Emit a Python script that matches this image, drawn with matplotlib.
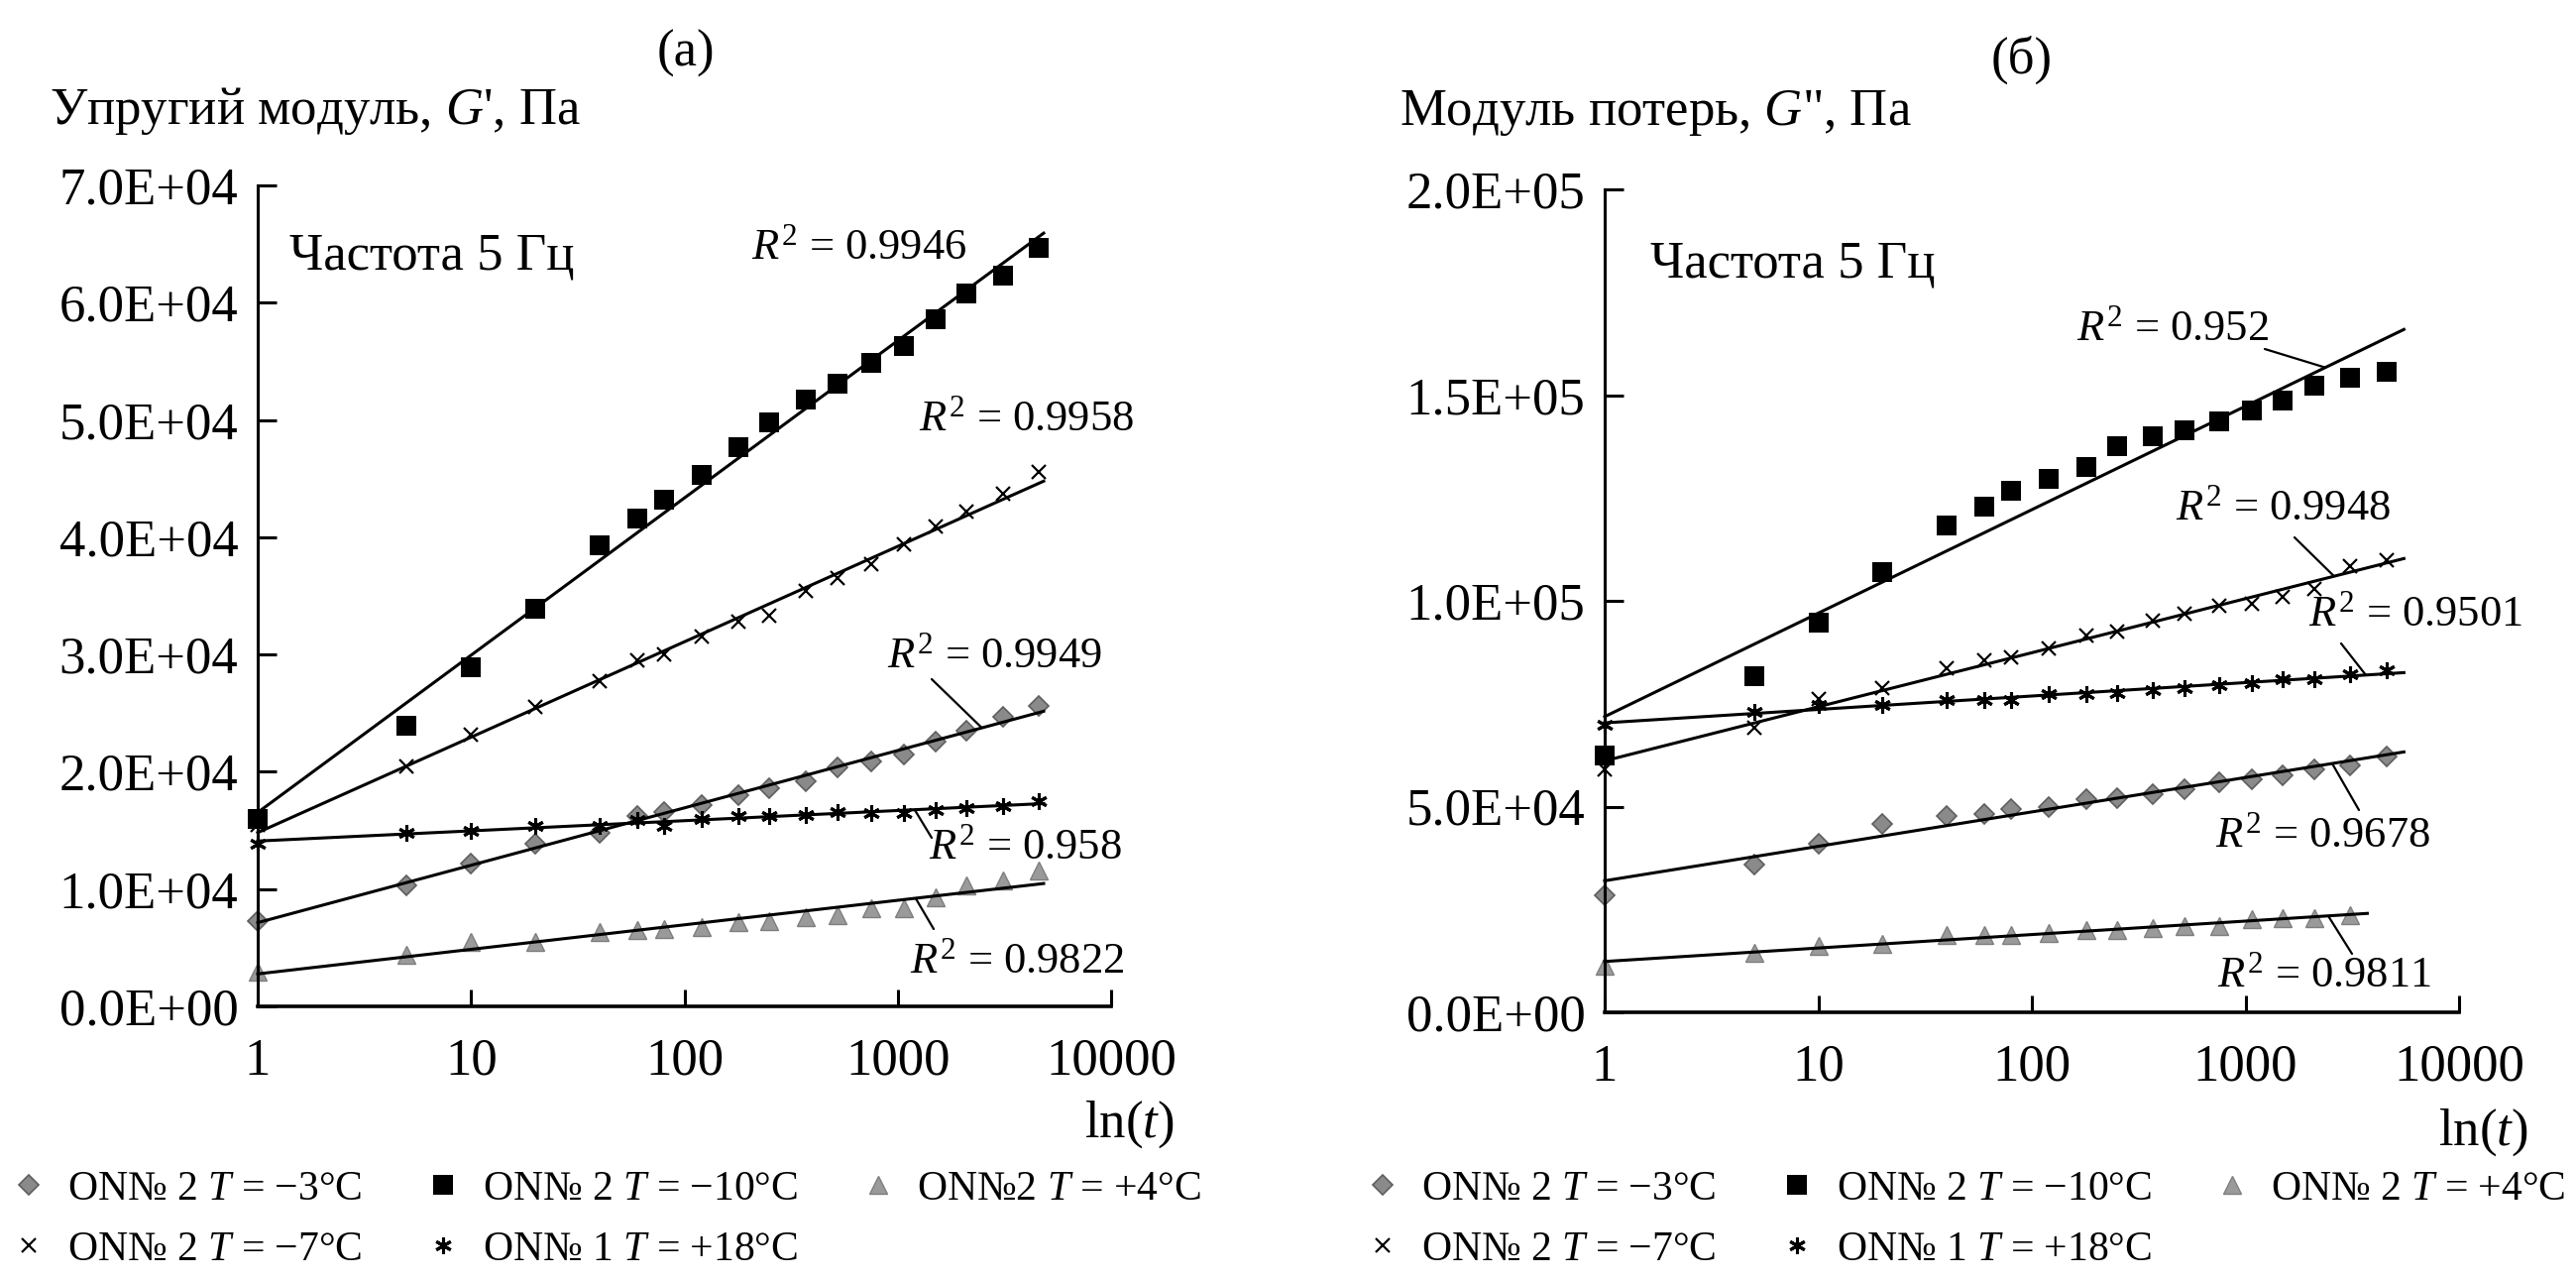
import numpy as np
import matplotlib.pyplot as plt
from matplotlib.ticker import FixedLocator, FuncFormatter, NullLocator

plt.rcParams['font.family'] = ['Liberation Serif', 'DejaVu Serif']
plt.rcParams['mathtext.fontset'] = 'custom'
plt.rcParams['mathtext.rm'] = 'Liberation Serif'
plt.rcParams['mathtext.it'] = 'Liberation Serif:italic'

W, H = 2599, 1291

# Время, с (ось ln(t))
t = [1, 5, 10, 20, 40, 60, 80, 120, 180, 250, 370, 520, 750, 1070, 1500, 2100, 3100, 4600]

# (а) Упругий модуль G', x 1E+04 Па
g1_m3 = [0.73, 1.03, 1.22, 1.39, 1.48, 1.62, 1.66, 1.72, 1.80, 1.86, 1.92, 2.04, 2.09, 2.15, 2.26, 2.35, 2.47, 2.56]
g1_m10 = [1.60, 2.39, 2.89, 3.39, 3.93, 4.16, 4.32, 4.53, 4.77, 4.98, 5.17, 5.31, 5.49, 5.63, 5.86, 6.08, 6.23, 6.47]
g1_p4 = [0.30, 0.44, 0.55, 0.55, 0.63, 0.65, 0.66, 0.68, 0.72, 0.73, 0.76, 0.78, 0.84, 0.84, 0.93, 1.03, 1.07, 1.16]
g1_m7 = [1.55, 2.05, 2.32, 2.55, 2.77, 2.95, 3.00, 3.15, 3.28, 3.33, 3.54, 3.65, 3.77, 3.94, 4.09, 4.22, 4.37, 4.56]
g1_p18 = [1.39, 1.48, 1.50, 1.54, 1.54, 1.59, 1.54, 1.60, 1.62, 1.62, 1.63, 1.66, 1.65, 1.65, 1.67, 1.69, 1.71, 1.75]

# (б) Модуль потерь G'', x 1E+04 Па
g2_m3 = [2.84, 3.60, 4.09, 4.57, 4.78, 4.83, 4.94, 4.99, 5.17, 5.21, 5.31, 5.42, 5.58, 5.66, 5.77, 5.91, 6.00, 6.22]
g2_m10 = [6.23, 8.16, 9.47, 10.70, 11.83, 12.30, 12.68, 12.96, 13.25, 13.77, 14.01, 14.15, 14.37, 14.63, 14.86, 15.24, 15.41, 15.56]
g2_p4 = [1.13, 1.45, 1.61, 1.66, 1.88, 1.88, 1.88, 1.93, 1.99, 1.99, 2.04, 2.09, 2.09, 2.26, 2.30, 2.30, 2.36]
g2_m7 = [5.90, 6.92, 7.62, 7.88, 8.37, 8.55, 8.62, 8.85, 9.15, 9.25, 9.52, 9.69, 9.88, 9.93, 10.10, 10.30, 10.84, 11.00]
g2_p18 = [7.00, 7.30, 7.46, 7.46, 7.60, 7.60, 7.60, 7.73, 7.73, 7.75, 7.83, 7.88, 7.94, 8.00, 8.10, 8.10, 8.22, 8.32]

labels_a = ["ON№ 2 $T$ = −3°C", "ON№ 2 $T$ = −7°C", "ON№ 2 $T$ = −10°C", "ON№ 1 $T$ = +18°C", "ON№2 $T$ = +4°C"]
labels_b = ["ON№ 2 $T$ = −3°C", "ON№ 2 $T$ = −7°C", "ON№ 2 $T$ = −10°C", "ON№ 1 $T$ = +18°C", "ON№ 2 $T$ = +4°C"]

# стили маркеров: ромб, крестик, квадрат, звездочка, треугольник
styles = [
    dict(marker='D', ms=10, mfc='#8a8a8a', mec='#5e5e5e', mew=1.2),
    dict(marker='x', ms=10, mfc='black', mec='black', mew=1.6),
    dict(marker='s', ms=14.5, mfc='black', mec='black', mew=0),
    dict(marker=(6, 2, 0), ms=12, mfc='black', mec='black', mew=2.2),
    dict(marker='^', ms=13.5, mfc='#9a9a9a', mec='#7e7e7e', mew=1.0),
]


def px(x, y):
    return (x / W, 1 - y / H)


def make_axes(fig, x0, x1, y0, y1):
    return fig.add_axes([x0 / W, 1 - y1 / H, (x1 - x0) / W, (y1 - y0) / H])


def style_axes(ax, ymax, ystep):
    ax.set_xscale('log')
    ax.set_xlim(1, 1e4)
    ax.set_ylim(0, ymax)
    ax.spines['top'].set_visible(False)
    ax.spines['right'].set_visible(False)
    ax.spines['left'].set_linewidth(2.2)
    ax.spines['bottom'].set_linewidth(2.6)
    ax.xaxis.set_major_locator(FixedLocator([1, 10, 100, 1000, 10000]))
    ax.xaxis.set_minor_locator(NullLocator())
    ax.xaxis.set_major_formatter(FuncFormatter(lambda v, p: f"{v:.0f}"))
    ax.yaxis.set_major_locator(FixedLocator(np.arange(0, ymax + 1, ystep)))
    ax.yaxis.set_major_formatter(FuncFormatter(lambda v, p: f"{v:.1E}"))
    ax.tick_params(axis='x', direction='in', length=12, width=2.2, labelsize=38, pad=23)
    ax.tick_params(axis='y', direction='in', length=14, width=2.2, labelsize=38, pad=14)


def draw_series(ax, series, t_scale):
    handles = []
    fits = []
    for ys, st in zip(series, styles):
        tt = np.array(t[:len(ys)], dtype=float)
        vals = np.array(ys) * 1e4
        b, a = np.polyfit(np.log10(tt), vals, 1)
        fits.append((b, a))
        tl = np.array([1.0, tt[-1] * t_scale])
        ax.plot(tl, a + b * np.log10(tl), color='black', lw=2.2, zorder=3, clip_on=False)
        h, = ax.plot(tt, vals, ls='none', zorder=2, clip_on=False, **st)
        handles.append(h)
    return handles, fits


def leader(ax, fit, t_on, x_txt, y_txt):
    b, a = fit
    ax.annotate('', xy=(t_on, a + b * np.log10(t_on)), xycoords='data',
                xytext=(x_txt, H - y_txt), textcoords='figure pixels',
                arrowprops=dict(arrowstyle='-', lw=1.6, color='black',
                                shrinkA=0, shrinkB=0))


fig = plt.figure(figsize=(W / 100, H / 100), dpi=100)

# ---------- (а) ----------
ax1 = make_axes(fig, 260, 1121, 187, 1015)
style_axes(ax1, 7e4, 1e4)
h1, fit1 = draw_series(ax1, [g1_m3, g1_m7, g1_m10, g1_p18, g1_p4], 1.05)

fig.text(*px(692, 54), "(а)", fontsize=38, ha='center', va='center')
fig.text(*px(50, 112), "Упругий модуль, $G$', Па", fontsize=38, ha='left', va='center')
fig.text(*px(292, 258), "Частота 5 Гц", fontsize=38, ha='left', va='center')
fig.text(*px(1185, 1134), "ln($t$)", fontsize=38, ha='right', va='center')

fig.text(*px(758, 250), "$R^2$ = 0.9946", fontsize=32, ha='left', va='center')
fig.text(*px(927, 423), "$R^2$ = 0.9958", fontsize=32, ha='left', va='center')
fig.text(*px(895, 662), "$R^2$ = 0.9949", fontsize=32, ha='left', va='center')
fig.text(*px(937, 855), "$R^2$ = 0.958", fontsize=32, ha='left', va='center')
fig.text(*px(918, 970), "$R^2$ = 0.9822", fontsize=32, ha='left', va='center')
leader(ax1, fit1[0], 2480, 940, 685)
leader(ax1, fit1[3], 1200, 940, 845)
leader(ax1, fit1[4], 1213, 942, 937)

fig.legend(h1, labels_a, loc='upper left', bbox_to_anchor=px(8, 1180),
           ncol=3, frameon=False, fontsize=30, handlelength=1.0,
           handletextpad=0.45, columnspacing=1.45, labelspacing=0.55,
           borderpad=0, borderaxespad=0)

# ---------- (б) ----------
ax2 = make_axes(fig, 1619, 2481, 191, 1021)
style_axes(ax2, 2e5, 5e4)
h2, fit2 = draw_series(ax2, [g2_m3, g2_m7, g2_m10, g2_p18, g2_p4], 1.2)

fig.text(*px(2040, 60), "(б)", fontsize=38, ha='center', va='center')
fig.text(*px(1412, 114), "Модуль потерь, $G$\", Па", fontsize=38, ha='left', va='center')
fig.text(*px(1665, 266), "Частота 5 Гц", fontsize=38, ha='left', va='center')
fig.text(*px(2551, 1142), "ln($t$)", fontsize=38, ha='right', va='center')

fig.text(*px(2095, 332), "$R^2$ = 0.952", fontsize=32, ha='left', va='center')
fig.text(*px(2195, 513), "$R^2$ = 0.9948", fontsize=32, ha='left', va='center')
fig.text(*px(2329, 620), "$R^2$ = 0.9501", fontsize=32, ha='left', va='center')
fig.text(*px(2235, 843), "$R^2$ = 0.9678", fontsize=32, ha='left', va='center')
fig.text(*px(2237, 984), "$R^2$ = 0.9811", fontsize=32, ha='left', va='center')
leader(ax2, fit2[2], 2365, 2285, 352)
leader(ax2, fit2[1], 2600, 2315, 542)
leader(ax2, fit2[3], 3660, 2362, 649)
leader(ax2, fit2[0], 2547, 2380, 817)
leader(ax2, fit2[4], 2440, 2373, 962)

fig.legend(h2, labels_b, loc='upper left', bbox_to_anchor=px(1374, 1180),
           ncol=3, frameon=False, fontsize=30, handlelength=1.0,
           handletextpad=0.45, columnspacing=1.45, labelspacing=0.55,
           borderpad=0, borderaxespad=0)

fig.savefig("out.png", dpi=100, facecolor='white')
